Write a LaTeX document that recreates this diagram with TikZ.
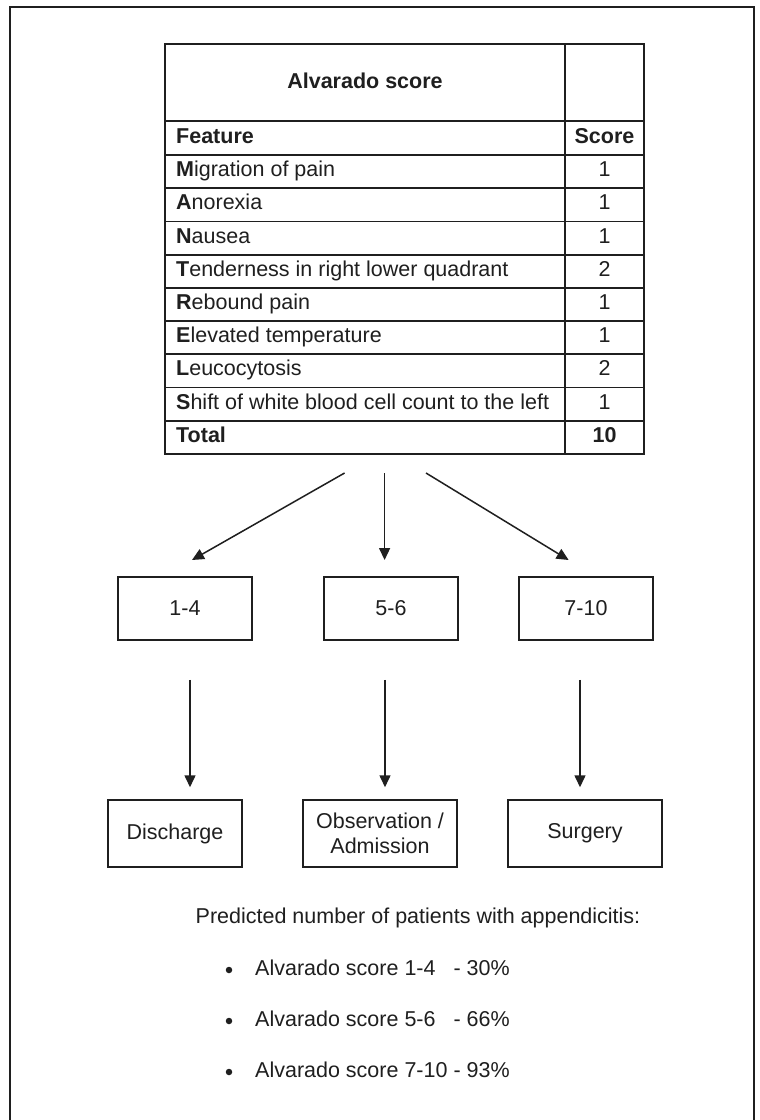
\documentclass[tikz,border=0pt]{standalone}
\usepackage{fontspec}
\setmainfont{Liberation Sans}
\usetikzlibrary{arrows.meta}
\definecolor{ink}{gray}{0.12}
\begin{document}
\begin{tikzpicture}[x=1pt,y=-1pt,
  tline/.style={draw=ink, line width=1.7pt},
  frame/.style={draw=ink, line width=2.4pt},
  txt/.style={font=\fontsize{21.5}{25}\selectfont, text=ink, inner sep=0pt},
  cell/.style={txt, text height=15pt, text depth=5pt},
  box/.style={draw=ink, line width=1.5pt, minimum height=63pt, inner sep=0pt, align=center,
              font=\fontsize{21.5}{25}\selectfont, text=ink},
  arr/.style={draw=ink, line width=1.5pt, -{Triangle[length=12pt,width=11pt]}},
  dot/.style={circle, fill=ink, minimum size=6.5pt, inner sep=0pt}]
\useasboundingbox (0,0) rectangle (760,1120);
\fill[white] (0,0) rectangle (760,1120);
% outer frame (bottom edge falls outside the picture)
\draw[frame] (10,1125) -- (10,7) -- (754,7) -- (754,1125);
% table
\draw[tline] (165,44) rectangle (644,454);
\draw[tline] (565,44) -- (565,454);
\draw[tline] (165,121) -- (644,121);
\draw[tline] (165,155) -- (644,155);
\foreach \k in {1,...,8} {
  \draw[tline] (165,155+33.22*\k) -- (644,155+33.22*\k);
}
\node[cell] (th) at (365,83) {\bfseries Alvarado score};
\node[cell, anchor=west] (fh) at (176,138) {\bfseries Feature};
\node[cell] (sh) at (604.5,138) {\bfseries Score};
\foreach \k/\f/\s in {0/{\textbf{M}igration of pain}/1, 1/{\textbf{A}norexia}/1, 2/{\textbf{N}ausea}/1,
  3/{\textbf{T}enderness in right lower quadrant}/2, 4/{\textbf{R}ebound pain}/1,
  5/{\textbf{E}levated temperature}/1, 6/{\textbf{L}eucocytosis}/2,
  7/{\textbf{S}hift of white blood cell count to the left}/1, 8/{\textbf{Total}}/{\textbf{10}}} {
  \node[cell, anchor=west] (f\k) at (176,155+33.22*\k+16.61) {\f};
  \node[cell] (s\k) at (604.5,155+33.22*\k+16.61) {\s};
}
% arrows from the table
\coordinate (s1) at (344.6,473); \coordinate (e1) at (192,560);
\coordinate (s2) at (384.6,473); \coordinate (e2) at (384.6,560);
\coordinate (s3) at (426,473);   \coordinate (e3) at (568.6,560);
\draw[arr] (s1) -- (e1);
\draw[arr] (s2) -- (e2);
\draw[arr] (s3) -- (e3);
% score range boxes
\node[box, minimum width=134pt] (b1) at (185,608.5) {1-4};
\node[box, minimum width=134pt] (b2) at (391,608.5) {5-6};
\node[box, minimum width=134pt] (b3) at (586,608.5) {7-10};
% outcome boxes
\node[box, minimum width=134pt, minimum height=67pt] (d1) at (175,833.5) {Discharge};
\node[box, minimum width=154pt, minimum height=67pt] (d2) at (380,833.5) {Observation /\\Admission};
\node[box, minimum width=154pt, minimum height=67pt] (d3) at (585,833.5) {Surgery};
\draw[arr] ([xshift=5pt,yshift=-39pt]b1.south) -- ([xshift=15pt,yshift=12pt]d1.north);
\draw[arr] ([xshift=-6pt,yshift=-39pt]b2.south) -- ([xshift=5pt,yshift=12pt]d2.north);
\draw[arr] ([xshift=-6pt,yshift=-39pt]b3.south) -- ([xshift=-5pt,yshift=12pt]d3.north);
% prediction text
\node[cell] (pred) at (418,918) {Predicted number of patients with appendicitis:};
\node[dot] (p1) at (229,970) {};
\node[dot] (p2) at (229,1021) {};
\node[dot] (p3) at (229,1072) {};
\node[cell, anchor=west] (l1) at (255,970) {Alvarado score 1-4\hspace{12pt} - 30\%};
\node[cell, anchor=west] (l2) at (255,1021) {Alvarado score 5-6\hspace{12pt} - 66\%};
\node[cell, anchor=west] (l3) at (255,1072) {Alvarado score 7-10 - 93\%};
\end{tikzpicture}
\end{document}
